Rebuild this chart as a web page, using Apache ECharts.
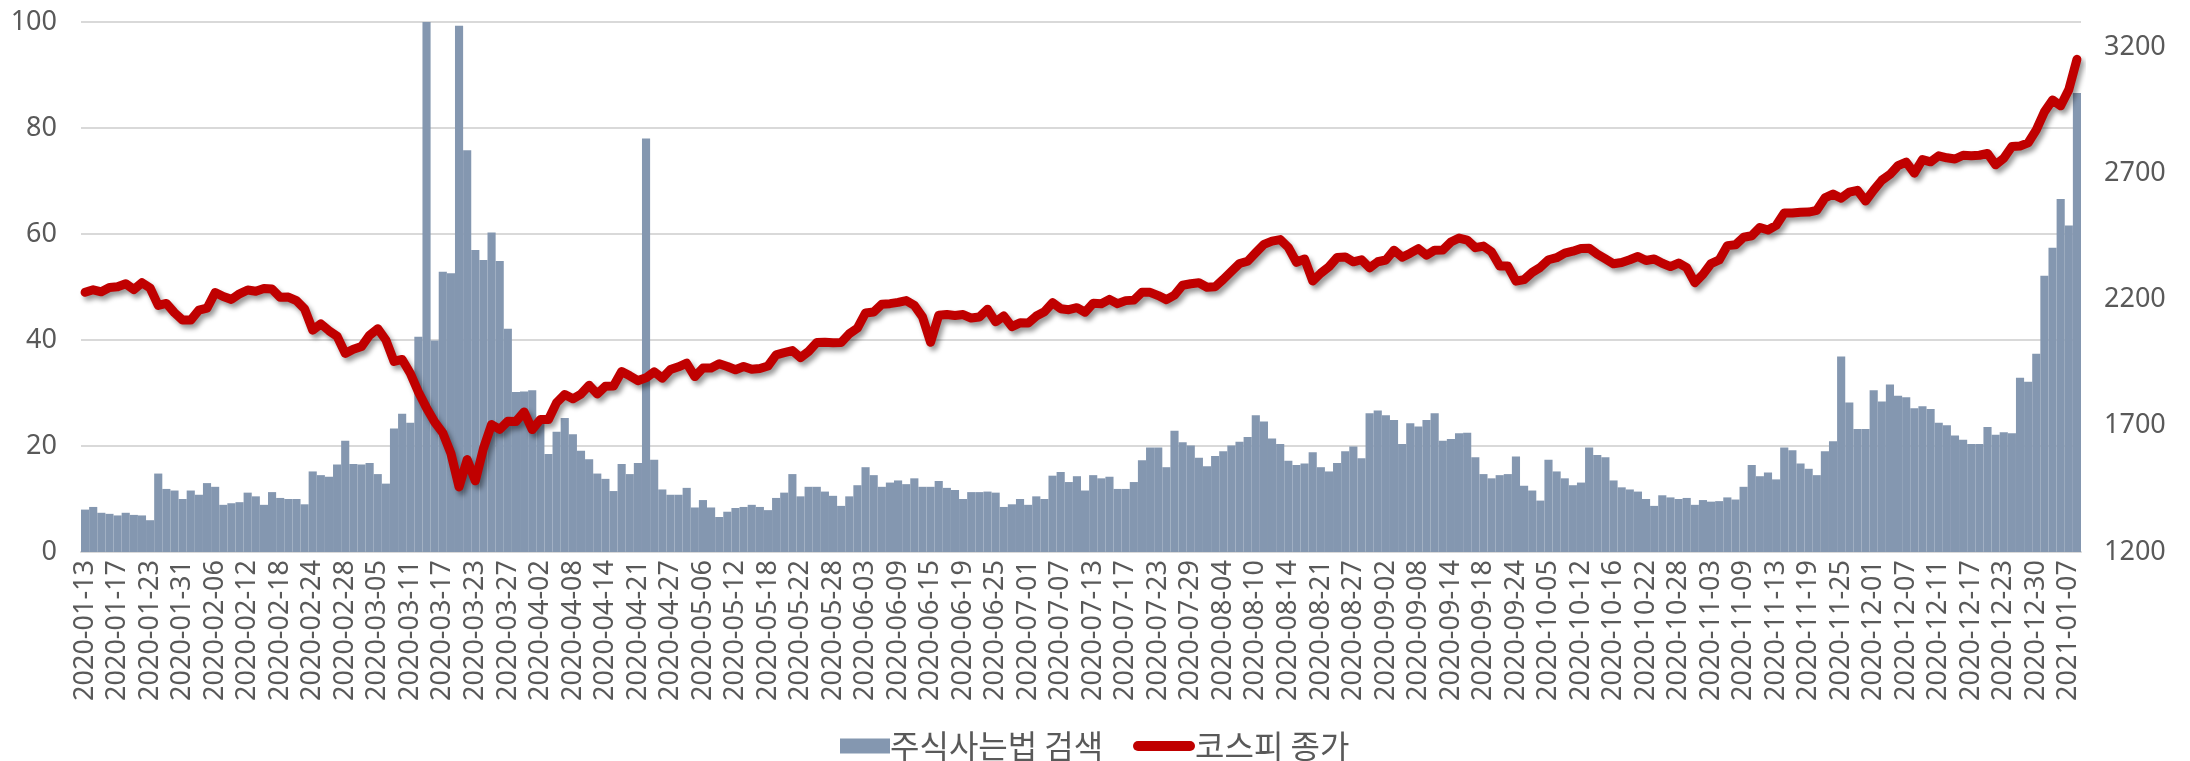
<!DOCTYPE html>
<html>
<head>
<meta charset="utf-8">
<script src="https://cdn.jsdelivr.net/npm/echarts/dist/echarts.min.js"></script>
<style>
  html, body { margin: 0; padding: 0; background: #fff; }
  #chart { width: 2190px; height: 761px; }
</style>
</head>
<body>
<div id="chart"></div>
<script>
// KRX trading days, 2020-01-13 .. 2021-01-08
const startDay = '2020-01-13'
const endDay = '2021-01-08'
const holidays = [
  '2020-01-24', '2020-01-27', '2020-04-15', '2020-04-30', '2020-05-01', '2020-05-05',
  '2020-08-17', '2020-09-30', '2020-10-01', '2020-10-02', '2020-10-09', '2020-12-25',
  '2020-12-31', '2021-01-01'
]

const days = []
for (let t = Date.parse(startDay); t <= Date.parse(endDay); t += 86400000) {
  let d = new Date(t)
  let key = d.toISOString().slice(0, 10)
  if (d.getUTCDay() === 0 || d.getUTCDay() === 6 || holidays.includes(key)) continue
  days.push(key)
}

// 주식사는법 검색 (relative search index)
const searchIdx = [
  8.0, 8.5, 7.4, 7.2, 6.9, 7.4, 7.0, 6.9, 6.0, 14.8, 11.9, 11.6, 10.0, 11.6, 10.8, 13.0,
  12.3, 8.9, 9.2, 9.4, 11.2, 10.5, 8.9, 11.3, 10.2, 10.0, 10.0, 9.0, 15.2, 14.5, 14.2, 16.5,
  21.0, 16.6, 16.5, 16.8, 14.7, 12.9, 23.3, 26.1, 24.4, 40.6, 100, 39.9, 52.9, 52.6, 99.3, 75.8,
  57.0, 55.1, 60.3, 54.9, 42.1, 30.2, 30.3, 30.5, 25.0, 18.5, 22.7, 25.3, 22.2, 19.1, 17.5, 14.8,
  13.8, 11.5, 16.6, 14.7, 16.8, 78.0, 17.4, 11.8, 10.8, 10.8, 12.1, 8.4, 9.8, 8.4, 6.6, 7.6,
  8.3, 8.5, 8.9, 8.5, 7.9, 10.2, 11.2, 14.7, 10.5, 12.3, 12.3, 11.4, 10.6, 8.7, 10.5, 12.6,
  16.0, 14.5, 12.3, 13.1, 13.5, 12.8, 13.9, 12.3, 12.3, 13.4, 12.1, 11.7, 10.0, 11.3, 11.3, 11.4,
  11.2, 8.5, 9.0, 10.0, 8.9, 10.5, 10.0, 14.4, 15.1, 13.2, 14.3, 11.6, 14.5, 13.9, 14.2, 11.9,
  11.9, 13.2, 17.3, 19.7, 19.7, 16.0, 22.9, 20.7, 20.1, 17.8, 16.2, 18.1, 19.0, 20.1, 20.8, 21.7,
  25.8, 24.6, 21.4, 20.4, 17.2, 16.4, 16.7, 18.8, 16.0, 15.2, 16.8, 19.0, 19.9, 17.7, 26.2, 26.7,
  25.8, 24.9, 20.4, 24.3, 23.7, 24.9, 26.2, 21.0, 21.3, 22.4, 22.5, 17.9, 14.7, 13.9, 14.5, 14.7,
  18.0, 12.5, 11.6, 9.7, 17.4, 15.2, 13.9, 12.6, 13.1, 19.7, 18.3, 17.9, 13.5, 12.2, 11.8, 11.4,
  10.0, 8.7, 10.7, 10.3, 10.0, 10.2, 8.9, 9.8, 9.5, 9.6, 10.3, 9.9, 12.3, 16.4, 14.3, 15.0,
  13.7, 19.7, 19.2, 16.7, 15.7, 14.5, 19.0, 20.9, 36.9, 28.2, 23.2, 23.2, 30.5, 28.4, 31.6, 29.5,
  29.2, 27.1, 27.5, 27.0, 24.4, 23.9, 22.0, 21.2, 20.4, 20.4, 23.6, 22.1, 22.6, 22.4, 32.9, 32.1,
  37.4, 52.1, 57.4, 66.6, 61.6, 86.6
]

// 코스피 종가
const kospiJan = [2229, 2239, 2231, 2248, 2251, 2263, 2240, 2267, 2246, 2177, 2185, 2148, 2119]
const kospiFeb = [2119, 2158, 2166, 2228, 2212, 2201, 2223, 2238, 2233, 2244, 2242, 2209, 2210, 2196,
  2163, 2079, 2104, 2077, 2055, 1987]
const kospiMar = [2003, 2014, 2059, 2085, 2040, 1955, 1963, 1908, 1834, 1771, 1715, 1672, 1591, 1458,
  1566, 1482, 1610, 1705, 1686, 1718, 1717, 1755]
const kospiApr = [1685, 1725, 1725, 1792, 1824, 1807, 1826, 1861, 1826, 1857, 1858, 1915, 1898, 1879,
  1890, 1914, 1889, 1923, 1934, 1948]
const kospiMay = [1895, 1929, 1929, 1946, 1935, 1922, 1935, 1924, 1927, 1937, 1981, 1990, 1998, 1970,
  1995, 2030, 2031, 2029, 2030]
const kospiJun = [2065, 2087, 2147, 2151, 2182, 2184, 2189, 2196, 2177, 2132, 2031, 2138, 2141, 2137,
  2141, 2127, 2131, 2162, 2112, 2135, 2093, 2108]
const kospiJul = [2107, 2135, 2152, 2188, 2164, 2160, 2168, 2150, 2186, 2184, 2201, 2184, 2196, 2198,
  2229, 2229, 2216, 2200, 2218, 2257, 2263, 2267, 2249]
const kospiAug = [2251, 2280, 2312, 2343, 2352, 2386, 2419, 2432, 2438, 2407, 2348, 2361, 2274, 2305,
  2330, 2367, 2369, 2350, 2358, 2326]
const kospiSep = [2350, 2357, 2396, 2368, 2384, 2402, 2376, 2396, 2397, 2428, 2444, 2436, 2406, 2412,
  2389, 2333, 2333, 2273, 2279, 2308, 2328]
const kospiOct = [2358, 2366, 2384, 2392, 2403, 2404, 2380, 2361, 2342, 2347, 2358, 2371, 2355, 2361,
  2344, 2331, 2345, 2327, 2267]
const kospiNov = [2300, 2343, 2357, 2414, 2417, 2447, 2453, 2486, 2476, 2494, 2543, 2543, 2546, 2547,
  2554, 2603, 2618, 2602, 2626, 2633, 2591]
const kospiDec = [2634, 2673, 2696, 2731, 2745, 2701, 2755, 2746, 2770, 2762, 2757, 2772, 2770, 2772,
  2779, 2734, 2760, 2807, 2809, 2821, 2873]
const kospiJan21 = [2944, 2991, 2968, 3032, 3152]

const kospi = [].concat(kospiJan, kospiFeb, kospiMar, kospiApr, kospiMay, kospiJun, kospiJul,
  kospiAug, kospiSep, kospiOct, kospiNov, kospiDec, kospiJan21)

const leftTicks = { min: 0, max: 100, step: 20 }
const rightTicks = { min: 1200, max: 3300, step: 500 }

const labelColor = '#595959'
const gridColor = '#d9d9d9'
const numFont = '"Noto Sans", sans-serif'
const krFont = '"Noto Sans CJK KR", sans-serif'

// capsule-shaped legend swatch for the line
const capsule = 'path://M5,0 L57,0 A5,5 0 0 1 57,10 L5,10 A5,5 0 0 1 5,0 Z'

let chart = echarts.init(document.getElementById('chart'), null, { renderer: 'canvas' })
chart.setOption({
  animation: false,
  backgroundColor: '#fff',
  grid: {
    left: 81,
    right: 109,
    top: 22,
    bottom: 209
  },
  legend: [
    {
      data: [{ name: '주식사는법 검색', icon: 'rect' }],
      left: 835,
      top: 725,
      itemWidth: 50,
      itemHeight: 15,
      textStyle: { color: labelColor, fontSize: 32, fontFamily: krFont, padding: [0, 0, 0, -5] }
    },
    {
      data: [{ name: '코스피 종가', icon: capsule, itemStyle: { color: '#c00000' } }],
      left: 1128,
      top: 725,
      itemWidth: 62,
      itemHeight: 11,
      textStyle: { color: labelColor, fontSize: 32, fontFamily: krFont, padding: [0, 0, 0, -5] }
    }
  ],
  xAxis: {
    type: 'category',
    data: days,
    boundaryGap: true,
    axisLine: { lineStyle: { color: gridColor, width: 2 } },
    axisTick: { show: false },
    axisLabel: {
      interval: 3,
      rotate: 90,
      margin: 8,
      color: labelColor,
      fontSize: 27,
      fontFamily: numFont
    }
  },
  yAxis: [
    {
      type: 'value',
      min: leftTicks.min,
      max: leftTicks.max,
      interval: leftTicks.step,
      axisLine: { show: false },
      axisTick: { show: false },
      axisLabel: { color: labelColor, fontSize: 27, fontFamily: numFont, margin: 24 },
      splitLine: { lineStyle: { color: gridColor, width: 2 } }
    },
    {
      type: 'value',
      min: rightTicks.min,
      max: rightTicks.max,
      interval: rightTicks.step,
      axisLine: { show: false },
      axisTick: { show: false },
      axisLabel: {
        color: labelColor,
        fontSize: 27,
        fontFamily: numFont,
        margin: 23,
        showMaxLabel: false,
        formatter: v => String(v)
      },
      splitLine: { show: false }
    }
  ],
  series: [
    {
      name: '주식사는법 검색',
      type: 'bar',
      data: searchIdx,
      barCategoryGap: '0%',
      itemStyle: { color: '#8497b0' }
    },
    {
      name: '코스피 종가',
      type: 'line',
      yAxisIndex: 1,
      data: kospi,
      showSymbol: false,
      symbol: 'none',
      itemStyle: { color: '#c00000' },
      lineStyle: {
        color: '#c00000',
        width: 9,
        cap: 'round',
        join: 'round',
        shadowColor: 'rgba(0, 0, 0, 0.4)',
        shadowBlur: 5,
        shadowOffsetX: 3,
        shadowOffsetY: 4
      }
    }
  ]
})
</script>
</body>
</html>
